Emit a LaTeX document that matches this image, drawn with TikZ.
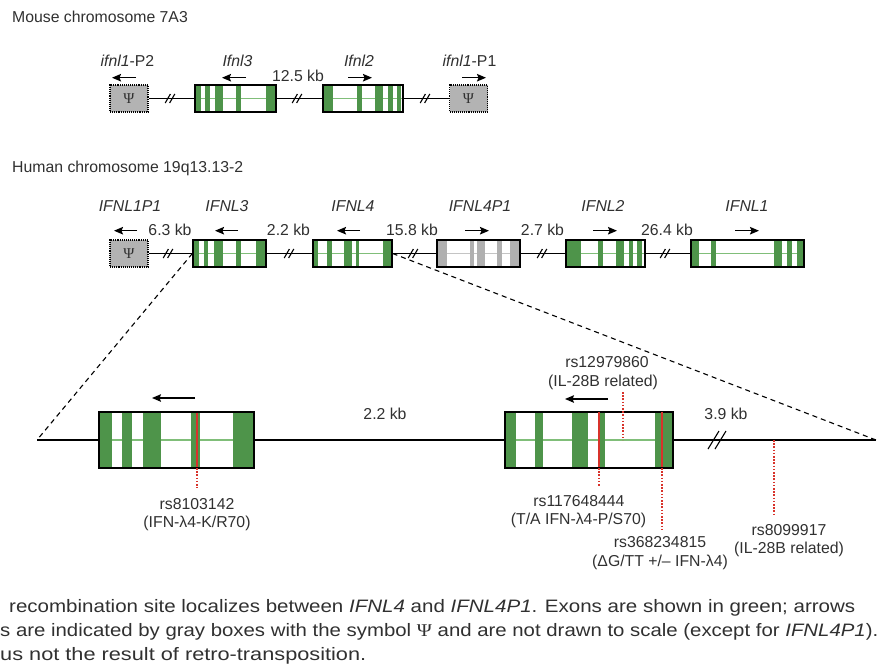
\documentclass[tikz,border=0pt]{standalone}
\usepackage{fontspec}
\setmainfont{Liberation Sans}
\newfontfamily\psifont{Liberation Serif}
\usetikzlibrary{arrows.meta}
\definecolor{exgreen}{HTML}{4E944A}
\definecolor{midgreen}{HTML}{80BE79}
\definecolor{exgray}{HTML}{B0B0B0}
\definecolor{midgray}{HTML}{C4C4C4}
\definecolor{psigray}{HTML}{B3B3B3}
\definecolor{snpred}{HTML}{D8332B}
\definecolor{txt}{HTML}{303030}
\newcommand\gbox[8]{%
  \fill[white] (#2,#4) rectangle (#3,#5);
  \draw[#7] (#2,{((#4)+(#5))/2}) -- (#3,{((#4)+(#5))/2});
  \foreach \a/\b in {#8} {\fill[#6] (\a,#4) rectangle (\b,#5);}
  \node[gb, minimum width={(#3)-(#2)}, minimum height={(#5)-(#4)}] (#1) at ({((#2)+(#3))/2},{((#4)+(#5))/2}) {};
}
\newcommand\brk[5]{% x y halfheight halfwidth gap
  \draw[brkline] ({#1-#5-#4},{#2+#3}) -- ({#1-#5+#4},{#2-#3});
  \draw[brkline] ({#1+#5-#4},{#2+#3}) -- ({#1+#5+#4},{#2-#3});
}
\begin{document}
\begin{tikzpicture}[x=1pt,y=-1pt,
  font=\fontsize{15.8}{19}\selectfont,
  gb/.style={draw=black, line width=1.3pt, inner sep=0pt},
  pseudo/.style={draw=black, densely dotted, line width=1.1pt, fill=psigray, inner sep=0pt,
    minimum width=38, minimum height=27, font=\psifont\fontsize{15}{15}\selectfont, text=txt},
  lbl/.style={text=txt, inner sep=0pt, anchor=base},
  ilbl/.style={lbl, font=\fontsize{15.8}{19}\selectfont\itshape},
  chrom/.style={line width=1.2pt, black},
  dchrom/.style={line width=1.5pt, black},
  brkline/.style={line width=1.1pt, black},
  dir/.style={line width=1.4pt, -{Stealth[length=9pt,width=7.5pt,inset=1.5pt]}},
  mg/.style={midgreen, line width=1.6pt},
  mgd/.style={midgreen, line width=2.2pt},
  mgray/.style={midgray, line width=1.6pt},
  snp/.style={snpred, line width=1.8pt},
  snpdot/.style={snpred, line width=1.6pt, dash pattern=on 1.6pt off 1.6pt},
  zoomdash/.style={black, line width=1.1pt, dash pattern=on 5pt off 4pt}]
\useasboundingbox (0,0) rectangle (886,665);

% ---------------- Mouse ----------------
\node[lbl, anchor=base west] (mtitle) at (12,22.5) {Mouse chromosome 7A3};

\node[pseudo] (mp2) at (129,98.5) {Ψ};
\gbox{ml3}{195}{276}{85}{112}{exgreen}{mg}{195/201,205/210,215/223,236/241,266/276}
\gbox{ml2}{323}{403}{85}{112}{exgreen}{mg}{323/333,357/362,375/383,388/393,397/400.5}
\node[pseudo] (mp1) at (468.5,98.5) {Ψ};
\draw[chrom] (mp2.east) -- (ml3.west);
\draw[chrom] (ml3.east) -- (ml2.west);
\draw[chrom] (ml2.east) -- (mp1.west);
\brk{170}{98.5}{4.5}{2.6}{2.2}
\brk{297}{98.5}{4.5}{2.6}{2.2}
\brk{425}{98.5}{4.5}{2.6}{2.2}

\node[lbl] (tmp2) at (127.5,66.5) {\textit{ifnl1}-P2};
\node[ilbl] (tml3) at (237.5,66.5) {Ifnl3};
\node[ilbl] (tml2) at (359,66.5) {Ifnl2};
\node[lbl] (tmp1) at (469.5,66.5) {\textit{ifnl1}-P1};
\node[lbl] (km1) at (298,81) {12.5 kb};
\draw[dir] (136,77.7) -- (112,77.7);
\draw[dir] (246,77.7) -- (222,77.7);
\draw[dir] (348,77.7) -- (372,77.7);
\draw[dir] (462,77.7) -- (486,77.7);

% ---------------- Human ----------------
\node[lbl, anchor=base west] (htitle) at (12,172.5) {Human chromosome 19q13.13-2};

\node[pseudo] (hp1) at (129,253.5) {Ψ};
\gbox{h3}{193}{266}{240}{267}{exgreen}{mg}{193/199,204/208,214/223,236/241,256/266}
\gbox{h4}{313}{392}{240}{267}{exgreen}{mg}{313/318,327/332,344/352,356/359,383/392}
\gbox{h4p}{437}{520}{240}{267}{exgray}{mgray}{437/447,470/474,477/485,497/502,510/520}
\gbox{h2}{566}{645}{240}{267}{exgreen}{mg}{566/581,598/603,616/624,629/633,637/642}
\gbox{h1}{691}{804}{240}{267}{exgreen}{mg}{691/699,711/716,774/782,787/792,797/804}
\draw[chrom] (hp1.east) -- (h3.west);
\draw[chrom] (h3.east) -- (h4.west);
\draw[chrom] (h4.east) -- (h4p.west);
\draw[chrom] (h4p.east) -- (h2.west);
\draw[chrom] (h2.east) -- (h1.west);
\brk{168}{253.5}{4.5}{2.6}{2.2}
\brk{289}{253.5}{4.5}{2.6}{2.2}
\brk{413}{253.5}{4.5}{2.6}{2.2}
\brk{542}{253.5}{4.5}{2.6}{2.2}
\brk{665}{253.5}{4.5}{2.6}{2.2}

\node[ilbl] (thp1) at (130,211.5) {IFNL1P1};
\node[ilbl] (th3) at (227,211.5) {IFNL3};
\node[ilbl] (th4) at (353,211.5) {IFNL4};
\node[ilbl] (th4p) at (480,211.5) {IFNL4P1};
\node[ilbl] (th2) at (603,211.5) {IFNL2};
\node[ilbl] (th1) at (747,211.5) {IFNL1};
\node[lbl] (k1) at (170,235) {6.3 kb};
\node[lbl] (k2) at (288.5,235) {2.2 kb};
\node[lbl] (k3) at (412,235) {15.8 kb};
\node[lbl] (k4) at (542.5,235) {2.7 kb};
\node[lbl] (k5) at (667,235) {26.4 kb};
\draw[dir] (137,230.7) -- (114,230.7);
\draw[dir] (238,230.7) -- (215,230.7);
\draw[dir] (360,230.7) -- (337,230.7);
\draw[dir] (465,230.7) -- (489,230.7);
\draw[dir] (593,230.7) -- (617,230.7);
\draw[dir] (735,230.7) -- (759,230.7);

% ---------------- Detail ----------------
\coordinate (dl) at (37,440);
\coordinate (dr) at (876,440);
\draw[zoomdash] (h3.west) -- (dl);
\draw[zoomdash] (h4.east) -- (dr);

\gbox{dL}{99}{254}{412}{468}{exgreen}{mgd}{99/112,122/132,143/161,191/200,233/254}
\gbox{dR}{505}{673}{412}{468}{exgreen}{mgd}{505/516,535/543,572/588,598/605,655/673}
\draw[dchrom] (dl) -- (dL.west);
\draw[dchrom] (dL.east) -- (dR.west);
\draw[dchrom] (dR.east) -- (dr);
\brk{717}{440}{9}{5.5}{3.5}

\draw[snp] (197,412.6) -- (197,467.4);
\draw[snpdot] (197,468) -- (197,488);
\draw[snp] (599,411.6) -- (599,467.4);
\draw[snpdot] (599,468) -- (599,486);
\draw[snp] (662,411.6) -- (662,467.4);
\draw[snpdot] (662,468) -- (662,529);
\draw[snpdot] (623,392) -- (623,440);
\draw[snpdot] (774,440) -- (774,516);

\draw[dir] (195,398) -- (152,398);
\draw[dir] (608,399) -- (565,399);

\node[lbl] (kd1) at (385,419) {2.2 kb};
\node[lbl] (kd2) at (726,419) {3.9 kb};

\node[lbl] (s1a) at (197,509) {rs8103142};
\node[lbl] (s1b) at (197,527.5) {(IFN-λ4-K/R70)};
\node[lbl] (s2a) at (607,367.5) {rs12979860};
\node[lbl] (s2b) at (603,386) {(IL-28B related)};
\node[lbl] (s3a) at (579,506.5) {rs117648444};
\node[lbl] (s3b) at (578.5,524.5) {(T/A IFN-λ4-P/S70)};
\node[lbl] (s4a) at (660,547.5) {rs368234815};
\node[lbl] (s4b) at (660,566) {(ΔG/TT +/– IFN-λ4)};
\node[lbl] (s5a) at (789,535) {rs8099917};
\node[lbl] (s5b) at (789,553.5) {(IL-28B related)};

% ---------------- Caption ----------------
\node[lbl, anchor=base west, font=\fontsize{18}{20}\selectfont] (c1) at (9,612)
  {\resizebox{846pt}{\height}{recombination site localizes between \textit{IFNL4} and \textit{IFNL4P1}. Exons are shown in green; arrows}};
\node[lbl, anchor=base west, font=\fontsize{18}{20}\selectfont] (c2) at (0,636)
  {\resizebox{878pt}{\height}{s are indicated by gray boxes with the symbol {\psifont Ψ} and are not drawn to scale (except for \textit{IFNL4P1}).}};
\node[lbl, anchor=base west, font=\fontsize{18}{20}\selectfont] (c3) at (0,660)
  {\resizebox{366pt}{\height}{us not the result of retro-transposition.}};
\end{tikzpicture}
\end{document}
